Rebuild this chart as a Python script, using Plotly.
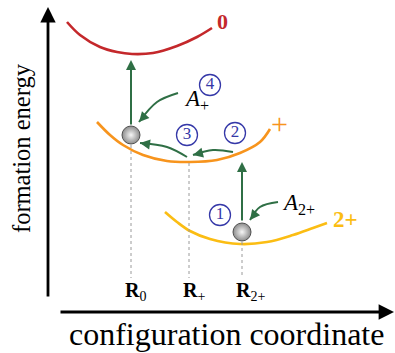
import plotly.graph_objects as go

W, H = 395, 353

# ---- schematic data (in picture pixel units) ----
red_x = [67, 80, 100, 117, 132, 153, 177, 197, 212]
red_y = [22, 35, 47, 52, 54, 53, 46, 37, 28]
orange_x = [97, 110, 123, 143, 167, 190, 217, 240, 260, 270]
orange_y = [122, 135, 145, 155, 161, 162, 160, 153, 142, 129]
yellow_x = [165, 177, 190, 210, 240, 267, 293, 313, 327]
yellow_y = [212, 222, 231, 239, 244, 242, 235, 228, 223]

curve_labels = ["0", "+", "2+"]
curve_label_x = [222, 279, 345]
curve_label_y = [21, 123, 219]
curve_label_weight = ["bold", "normal", "bold"]

ball_x = [131, 242]
ball_y = [135, 232]

config_labels = ["<b>R</b><sub>0</sub>", "<b>R</b><sub>+</sub>", "<b>R</b><sub>2+</sub>"]
config_x = [131, 189, 242]
dash_top = [145, 163, 242]
dash_bottom = 278
config_label_y = 291

# straight transition arrows (tail -> tip)
vert_tail_x = [131, 242]
vert_tail_y = [126, 222]
vert_tip_y = [60, 162]

# curved arrows: start, middle, tip
curve_arrow_x = [[178, 157, 139], [187, 167, 140], [233, 213, 193], [278, 260, 250]]
curve_arrow_y = [[93, 102, 122], [157, 147, 143], [152, 150, 155], [202, 207, 220]]

circ_labels = ["1", "2", "3", "4"]
circ_x = [220, 235, 187, 210]
circ_y = [215, 133, 135, 85]

amp_labels = ["<i>A</i><sub>+</sub>", "<i>A</i><sub>2+</sub>"]
amp_x = [182, 280]
amp_y = [100, 204]

RED = "#c4282b"
ORANGE = "#f7941d"
YELLOW = "#fbbd13"
GREEN = "#2f6f45"
BLUE = "#3538a8"
SERIF = "Liberation Serif"

fig = go.Figure()

for xs, ys, col in [(red_x, red_y, RED), (orange_x, orange_y, ORANGE), (yellow_x, yellow_y, YELLOW)]:
    fig.add_trace(go.Scatter(x=xs, y=ys, mode="lines",
                             line=dict(color=col, width=2.6, shape="spline", smoothing=1.0),
                             hoverinfo="skip"))

# dashed guide lines
for cx, top in zip(config_x, dash_top):
    fig.add_trace(go.Scatter(x=[cx, cx], y=[top, dash_bottom], mode="lines",
                             line=dict(color="#9a9a9a", width=1, dash="dot"), hoverinfo="skip"))

# curved arrows (bodies)
for xs, ys in zip(curve_arrow_x, curve_arrow_y):
    fig.add_trace(go.Scatter(x=xs, y=ys, mode="lines",
                             line=dict(color=GREEN, width=2, shape="spline", smoothing=1.0),
                             hoverinfo="skip"))

ann = []
# arrowheads of curved arrows
for xs, ys in zip(curve_arrow_x, curve_arrow_y):
    tx, ty = xs[-1], ys[-1]
    dx, dy = xs[-2] - tx, ys[-2] - ty
    n = (dx * dx + dy * dy) ** 0.5
    ann.append(dict(x=tx, y=ty, ax=tx + dx / n * 8, ay=ty + dy / n * 8, axref="x", ayref="y",
                    xref="x", yref="y", text="", showarrow=True, arrowhead=2,
                    arrowsize=1.0, arrowwidth=2, arrowcolor=GREEN))

# vertical transition arrows
for vx, vy, ty in zip(vert_tail_x, vert_tail_y, vert_tip_y):
    ann.append(dict(x=vx, y=ty, ax=vx, ay=vy, axref="x", ayref="y", xref="x", yref="y",
                    text="", showarrow=True, arrowhead=2, arrowsize=1.0, arrowwidth=2,
                    arrowcolor=GREEN))

# axes arrows
ann.append(dict(x=48, y=7, ax=48, ay=298, axref="x", ayref="y", xref="x", yref="y", text="",
                showarrow=True, arrowhead=2, arrowsize=1.1, arrowwidth=2.8, arrowcolor="black"))
ann.append(dict(x=394, y=312, ax=59, ay=312, axref="x", ayref="y", xref="x", yref="y", text="",
                showarrow=True, arrowhead=2, arrowsize=1.1, arrowwidth=2.8, arrowcolor="black"))

# balls
fig.add_trace(go.Scatter(x=ball_x, y=ball_y, mode="markers",
                         marker=dict(size=18, color="#8c8c8c",
                                     gradient=dict(type="radial", color="#f6f6f6"),
                                     line=dict(color="#505050", width=1)),
                         hoverinfo="skip"))

# circled step numbers
fig.add_trace(go.Scatter(x=circ_x, y=circ_y, mode="markers+text", text=circ_labels,
                         textposition="middle center",
                         textfont=dict(family=SERIF, size=17, color=BLUE),
                         marker=dict(size=21, color="rgba(255,255,255,0)",
                                     line=dict(color=BLUE, width=1.3)),
                         hoverinfo="skip"))

# curve labels
for t, x, y, col, sz, wt in zip(curve_labels, curve_label_x, curve_label_y,
                                [RED, ORANGE, YELLOW], [22, 30, 23], curve_label_weight):
    ann.append(dict(x=x, y=y, xref="x", yref="y", text=t, showarrow=False,
                    font=dict(family=SERIF, size=sz, color=col, weight=wt)))

# configuration labels
for t, x in zip(config_labels, config_x):
    ann.append(dict(x=x - 8, y=config_label_y, xref="x", yref="y", text=t, showarrow=False,
                    xanchor="left", font=dict(family=SERIF, size=20, color="black")))

# amplitude labels
for t, x, y in zip(amp_labels, amp_x, amp_y):
    ann.append(dict(x=x, y=y, xref="x", yref="y", text=t, showarrow=False, xanchor="left",
                    font=dict(family=SERIF, size=23, color="black")))

# axis titles
ann.append(dict(x=21, y=148, xref="x", yref="y", text="formation energy", textangle=-90,
                showarrow=False, font=dict(family=SERIF, size=24.5, color="black")))
ann.append(dict(x=226, y=334, xref="x", yref="y", text="configuration coordinate",
                showarrow=False, font=dict(family=SERIF, size=32, color="black")))

fig.update_layout(
    width=W, height=H, margin=dict(l=0, r=0, t=0, b=0),
    paper_bgcolor="white", plot_bgcolor="white", showlegend=False,
    xaxis=dict(range=[0, W], visible=False, fixedrange=True),
    yaxis=dict(range=[H, 0], visible=False, fixedrange=True),
    annotations=ann,
)

fig.write_html("out.html", config={"displayModeBar": False, "staticPlot": True},
               post_script="document.body.style.margin='0px';")
